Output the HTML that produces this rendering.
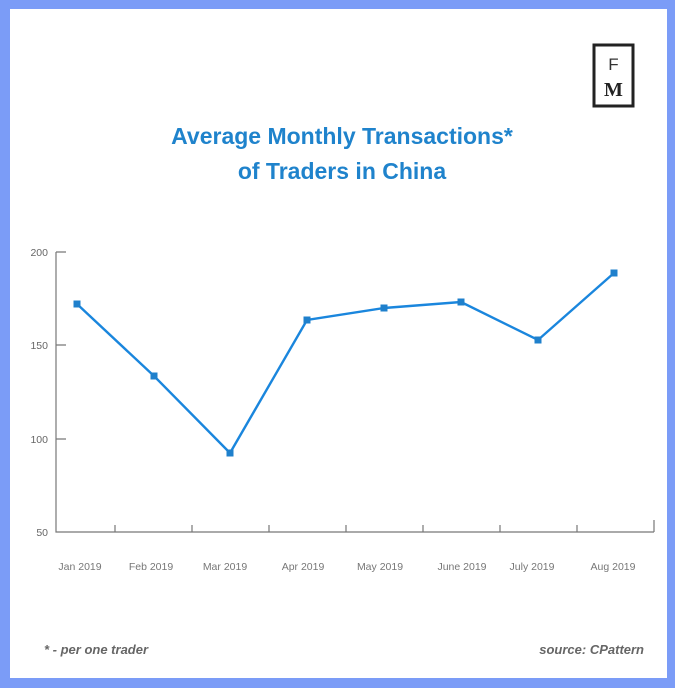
<!DOCTYPE html>
<html><head><style>
body{margin:0;width:675px;height:688px;background:#7b9cf7;position:relative;overflow:hidden;font-family:"Liberation Sans",sans-serif}
.in{position:absolute;left:10px;top:9px;width:657px;height:669px;background:#fff}
</style></head><body>
<div class="in"></div>
<svg width="675" height="688" style="position:absolute;left:0;top:0">
<rect x="594" y="45" width="39" height="61" fill="none" stroke="#222" stroke-width="3"/>
<text x="613.5" y="70" font-size="17" text-anchor="middle" fill="#333" font-family="Liberation Sans">F</text>
<text x="613.5" y="96" font-size="20" font-weight="bold" text-anchor="middle" fill="#222" font-family="Liberation Serif">M</text>
<text x="342" y="144" font-size="23" font-weight="bold" fill="#1f83cc" text-anchor="middle">Average Monthly Transactions*</text>
<text x="342" y="179" font-size="23" font-weight="bold" fill="#1f83cc" text-anchor="middle">of Traders in China</text>
<g stroke="#777" stroke-width="1.2" fill="none">
<path d="M56 252V532H654"/>
<path d="M56 252H66M56 345H66M56 439H66"/>
<path d="M115 525V532M192 525V532M269 525V532M346 525V532M423 525V532M500 525V532M577 525V532M654 520V532"/>
</g>
<g font-size="10.5" fill="#666" text-anchor="end">
<text x="48" y="256">200</text><text x="48" y="349">150</text><text x="48" y="443">100</text><text x="48" y="536">50</text>
</g>
<g font-size="10.5" fill="#777" text-anchor="middle">
<text x="80" y="570">Jan 2019</text><text x="151" y="570">Feb 2019</text><text x="225" y="570">Mar 2019</text><text x="303" y="570">Apr 2019</text><text x="380" y="570">May 2019</text><text x="462" y="570">June 2019</text><text x="532" y="570">July 2019</text><text x="613" y="570">Aug 2019</text>
</g>
<polyline points="77,304 154,376 230,453 307,320 384,308 461,302 538,340 614,273" fill="none" stroke="#1a86dd" stroke-width="2.4"/>
<g fill="#1f80cc">
<rect x="73.5" y="300.5" width="7" height="7"/><rect x="150.5" y="372.5" width="7" height="7"/><rect x="226.5" y="449.5" width="7" height="7"/><rect x="303.5" y="316.5" width="7" height="7"/><rect x="380.5" y="304.5" width="7" height="7"/><rect x="457.5" y="298.5" width="7" height="7"/><rect x="534.5" y="336.5" width="7" height="7"/><rect x="610.5" y="269.5" width="7" height="7"/>
</g>
<text x="44" y="654" font-size="13" font-style="italic" font-weight="bold" fill="#666">* - per one trader</text>
<text x="644" y="654" font-size="13" font-style="italic" font-weight="bold" fill="#666" text-anchor="end">source: CPattern</text>
</svg>
</body></html>
